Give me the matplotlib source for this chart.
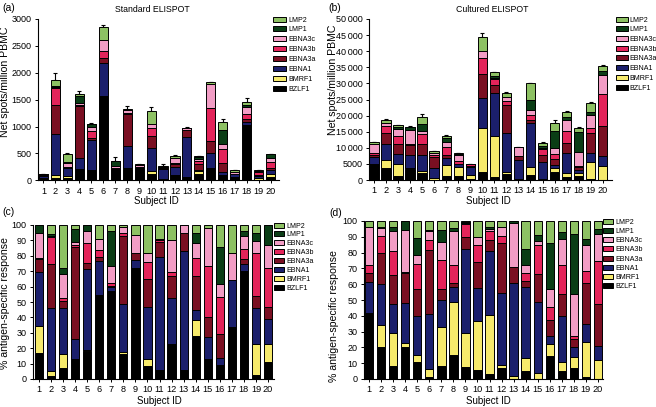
import numpy as np
import matplotlib
matplotlib.use("Agg")
import matplotlib.pyplot as plt
from matplotlib.patches import Patch

plt.rcParams['font.family'] = ['Liberation Sans', 'DejaVu Sans']

subjects = np.arange(1, 21)
antigens = ['BZLF1', 'BMRF1', 'EBNA1', 'EBNA3a', 'EBNA3b', 'EBNA3c', 'LMP1', 'LMP2']
colors = ['#000000', '#f6ea6c', '#1b1f6c', '#7a0f22', '#e3245a', '#f29dc5', '#0a3d15', '#8dc163']

# standard ELISPOT: totals (spots/million PBMC) and error on total
std_total = [115, 1870, 480, 1610, 1040, 2860, 365, 1320, 300, 1280,
             265, 455, 975, 450, 1820, 1085, 190, 1460, 190, 480]
std_err = [5, 125, 20, 60, 20, 20, 70, 60, 10, 90,
           30, 15, 15, 10, 15, 55, 10, 70, 10, 15]

# standard ELISPOT: % antigen-specific response (panel c)
std_pct = {
    'BZLF1':  [17, 2, 7, 13, 18, 54.5, 57, 16, 72, 8.5, 6, 23, 6, 28, 13, 9, 33.5, 70, 2.5, 11],
    'BMRF1':  [17.5, 3, 9.5, 0, 1, 0, 0, 1.5, 0, 4.5, 0, 0, 0, 10.5, 0, 0, 0, 0, 20.5, 11.5],
    'EBNA1':  [35, 41, 29.5, 13, 52.5, 22, 3, 31, 5, 34, 73.5, 29.5, 77, 6, 14.5, 4.5, 30.5, 4.5, 23, 16.5],
    'EBNA3a': [8.5, 29, 4.5, 60, 4, 3, 0.5, 44.5, 5, 18, 9.5, 14.5, 12, 22.5, 13, 15.5, 0, 3.5, 8, 8],
    'EBNA3b': [0.5, 17, 2, 1, 12.5, 4.5, 2, 1.5, 0, 11, 1, 2.5, 0, 11.5, 33, 24, 0, 6.5, 28, 25],
    'EBNA3c': [16.5, 1, 15.5, 2, 8, 7, 11, 4.5, 11.5, 5.5, 1, 20.5, 5, 10, 24.5, 9, 18, 8.5, 7.5, 15],
    'LMP1':   [5, 1, 4, 8.5, 4, 0, 22.5, 0, 0, 0, 0, 0, 0, 6, 0, 23.5, 0, 3, 5.5, 13],
    'LMP2':   [0, 6, 28, 2.5, 0, 9, 4, 1, 6.5, 18.5, 9, 10, 0, 5.5, 2, 14.5, 18, 4, 5, 0],
}

# cultured ELISPOT: totals and error on total
cul_total = [11800, 18500, 17000, 16400, 19500, 8900, 13700, 8300, 5000, 44500,
             33400, 27000, 10300, 30000, 11500, 17600, 21000, 16200, 23800, 35500]
cul_err = [150, 300, 150, 500, 1000, 150, 200, 150, 100, 1000,
           200, 300, 100, 200, 150, 900, 300, 150, 400, 300]

# cultured ELISPOT: % antigen-specific response (panel d)
cul_pct = {
    'BZLF1':  [41.5, 20, 8, 20, 10.5, 1, 8.5, 15.5, 7.5, 5.5, 3, 7, 0, 5, 0, 14.5, 5, 7, 1, 0],
    'BMRF1':  [0, 14, 21, 3, 4.5, 5.5, 24.5, 33, 21.5, 31, 37.5, 2, 2, 8.5, 3.5, 7.5, 5.5, 7, 22.5, 12],
    'EBNA1':  [20, 26, 18.5, 25, 25, 34.5, 17, 10, 53, 21, 40.5, 45.5, 58.5, 45, 45, 5, 29.5, 6, 11.5, 9],
    'EBNA3a': [5.5, 19.5, 18.5, 19, 17, 40.5, 7, 2.5, 8, 16.5, 7, 31.5, 10.5, 3.5, 18, 10.5, 14, 5.5, 26, 26.5],
    'EBNA3b': [5, 11, 15, 0.5, 16, 6.5, 18.5, 11, 8, 11, 5.5, 4.5, 0, 5, 18, 8, 18, 2, 7.5, 27.5],
    'EBNA3c': [24, 5, 12.5, 26.5, 5.5, 5.5, 11.5, 21.5, 1, 5, 1.5, 5.5, 27.5, 5, 3, 11.5, 16.5, 26.5, 16, 17],
    'LMP1':   [0, 1, 3, 6, 11, 1, 7.5, 2, 0.5, 0, 1.5, 0, 1.5, 10.5, 3.5, 29, 4.5, 38, 4, 3],
    'LMP2':   [4, 3.5, 3.5, 0, 10.5, 5.5, 5.5, 4.5, 0.5, 10, 3.5, 4, 0, 17.5, 9, 14, 7, 8, 11.5, 5],
}

fig = plt.figure(figsize=(6.56, 4.07), dpi=100)
W, H = 656.0, 407.0


def fx(x):
    return x / W


def fy(y):
    return 1 - y / H


def make_ax(l, r, t, b):
    return fig.add_axes([l / W, 1 - b / H, (r - l) / W, (b - t) / H])


def stack(ax, values, width, err=None):
    bottom = np.zeros(len(subjects))
    for name, col in zip(antigens, colors):
        v = np.array(values[name], dtype=float)
        ax.bar(subjects, v, width, bottom=bottom, color=col, edgecolor='black',
               linewidth=0.7, zorder=2)
        bottom += v
    if err is not None:
        ax.errorbar(subjects, bottom, yerr=[np.zeros(len(err)), err], fmt='none',
                    ecolor='black', elinewidth=0.8, capsize=1.5, capthick=0.8, zorder=1)


def style(ax, xlim, ylim, yticks, yticklabels, ylabel, ylab_xy, xlab_xy):
    ax.set_xlim(*xlim)
    ax.set_ylim(*ylim)
    ax.set_xticks(subjects)
    ax.set_xticklabels([str(s) for s in subjects], fontsize=6.6)
    ax.set_yticks(yticks)
    ax.set_yticklabels(yticklabels, fontsize=6.5)
    ax.spines['top'].set_visible(False)
    ax.spines['right'].set_visible(False)
    ax.tick_params(axis='both', length=2.5, width=0.7, pad=2)
    ax.set_ylabel(ylabel, fontsize=7.6)
    ax.yaxis.set_label_coords(fx(ylab_xy[0]), fy(ylab_xy[1]), transform=fig.transFigure)
    ax.set_xlabel('Subject ID', fontsize=7)
    ax.xaxis.set_label_coords(fx(xlab_xy[0]), fy(xlab_xy[1]), transform=fig.transFigure)


def legend(ax, x, y, spacing, hl=1.7):
    handles = [Patch(facecolor=c, edgecolor='black', linewidth=0.7, label=a)
               for a, c in zip(antigens, colors)][::-1]
    fs = 5.1
    fpx = fs * 100 / 72.0
    ax.legend(handles=handles, loc='upper left', bbox_to_anchor=(fx(x), fy(y)),
              bbox_transform=fig.transFigure, frameon=False, prop={'size': fs},
              handlelength=hl, handleheight=0.7,
              labelspacing=(spacing - 0.97 * fpx) / fpx,
              handletextpad=0.3, borderpad=0, borderaxespad=0)


# (a) standard ELISPOT
ax_a = make_ax(37.5, 279, 19, 180.3)
std_vals = {k: np.array(v) * np.array(std_total) / 100.0 for k, v in std_pct.items()}
stack(ax_a, std_vals, 0.76, std_err)
style(ax_a, (0.5, 20.7), (0, 3000), range(0, 3001, 500),
      [str(v) for v in range(0, 3001, 500)], 'Net spots/million PBMC',
      (10.5, 82), (156, 196.5))
fig.text(fx(152), fy(9), 'Standard ELISPOT', fontsize=6.3, ha='center', va='center')
legend(ax_a, 273, 16.5, 9.75, 1.9)

# (b) cultured ELISPOT
ax_b = make_ax(369, 612, 19, 180)
cul_vals = {k: np.array(v) * np.array(cul_total) / 100.0 for k, v in cul_pct.items()}
stack(ax_b, cul_vals, 0.78, cul_err)
btick = list(range(0, 50001, 5000))
blab = [('{:,}'.format(v).replace(',', '\u2009') if v >= 10000 else str(v)) for v in btick]
style(ax_b, (0.585, 20.77), (0, 50000), btick, blab, 'Net spots/million PBMC',
      (338, 80), (488, 196.5))
fig.text(fx(492), fy(9), 'Cultured ELISPOT', fontsize=6.3, ha='center', va='center')
legend(ax_b, 616, 16.5, 9.6, 1.65)

# (c) standard, percentage
ax_c = make_ax(33, 274, 225, 379)
stack(ax_c, std_pct, 0.68)
style(ax_c, (0.5, 20.5), (0, 100), range(0, 101, 10),
      [str(v) for v in range(0, 101, 10)], '% antigen-specific response',
      (10.5, 303), (159, 396.5))
legend(ax_c, 274, 222.5, 8.8, 1.4)

# (d) cultured, percentage
ax_d = make_ax(364, 603, 221, 379)
stack(ax_d, cul_pct, 0.68)
style(ax_d, (0.56, 20.44), (0, 100), range(0, 101, 10),
      [str(v) for v in range(0, 101, 10)], '% antigen-specific response',
      (339, 316), (488, 396.5))
legend(ax_d, 603, 218.5, 9.15, 1.4)

for lab, x, y in [('(a)', 2, 8), ('(b)', 328, 8), ('(c)', 2, 212), ('(d)', 329, 213)]:
    fig.text(fx(x), fy(y), lab, fontsize=7.5, ha='left', va='center')

fig.savefig('out.png', dpi=100)
